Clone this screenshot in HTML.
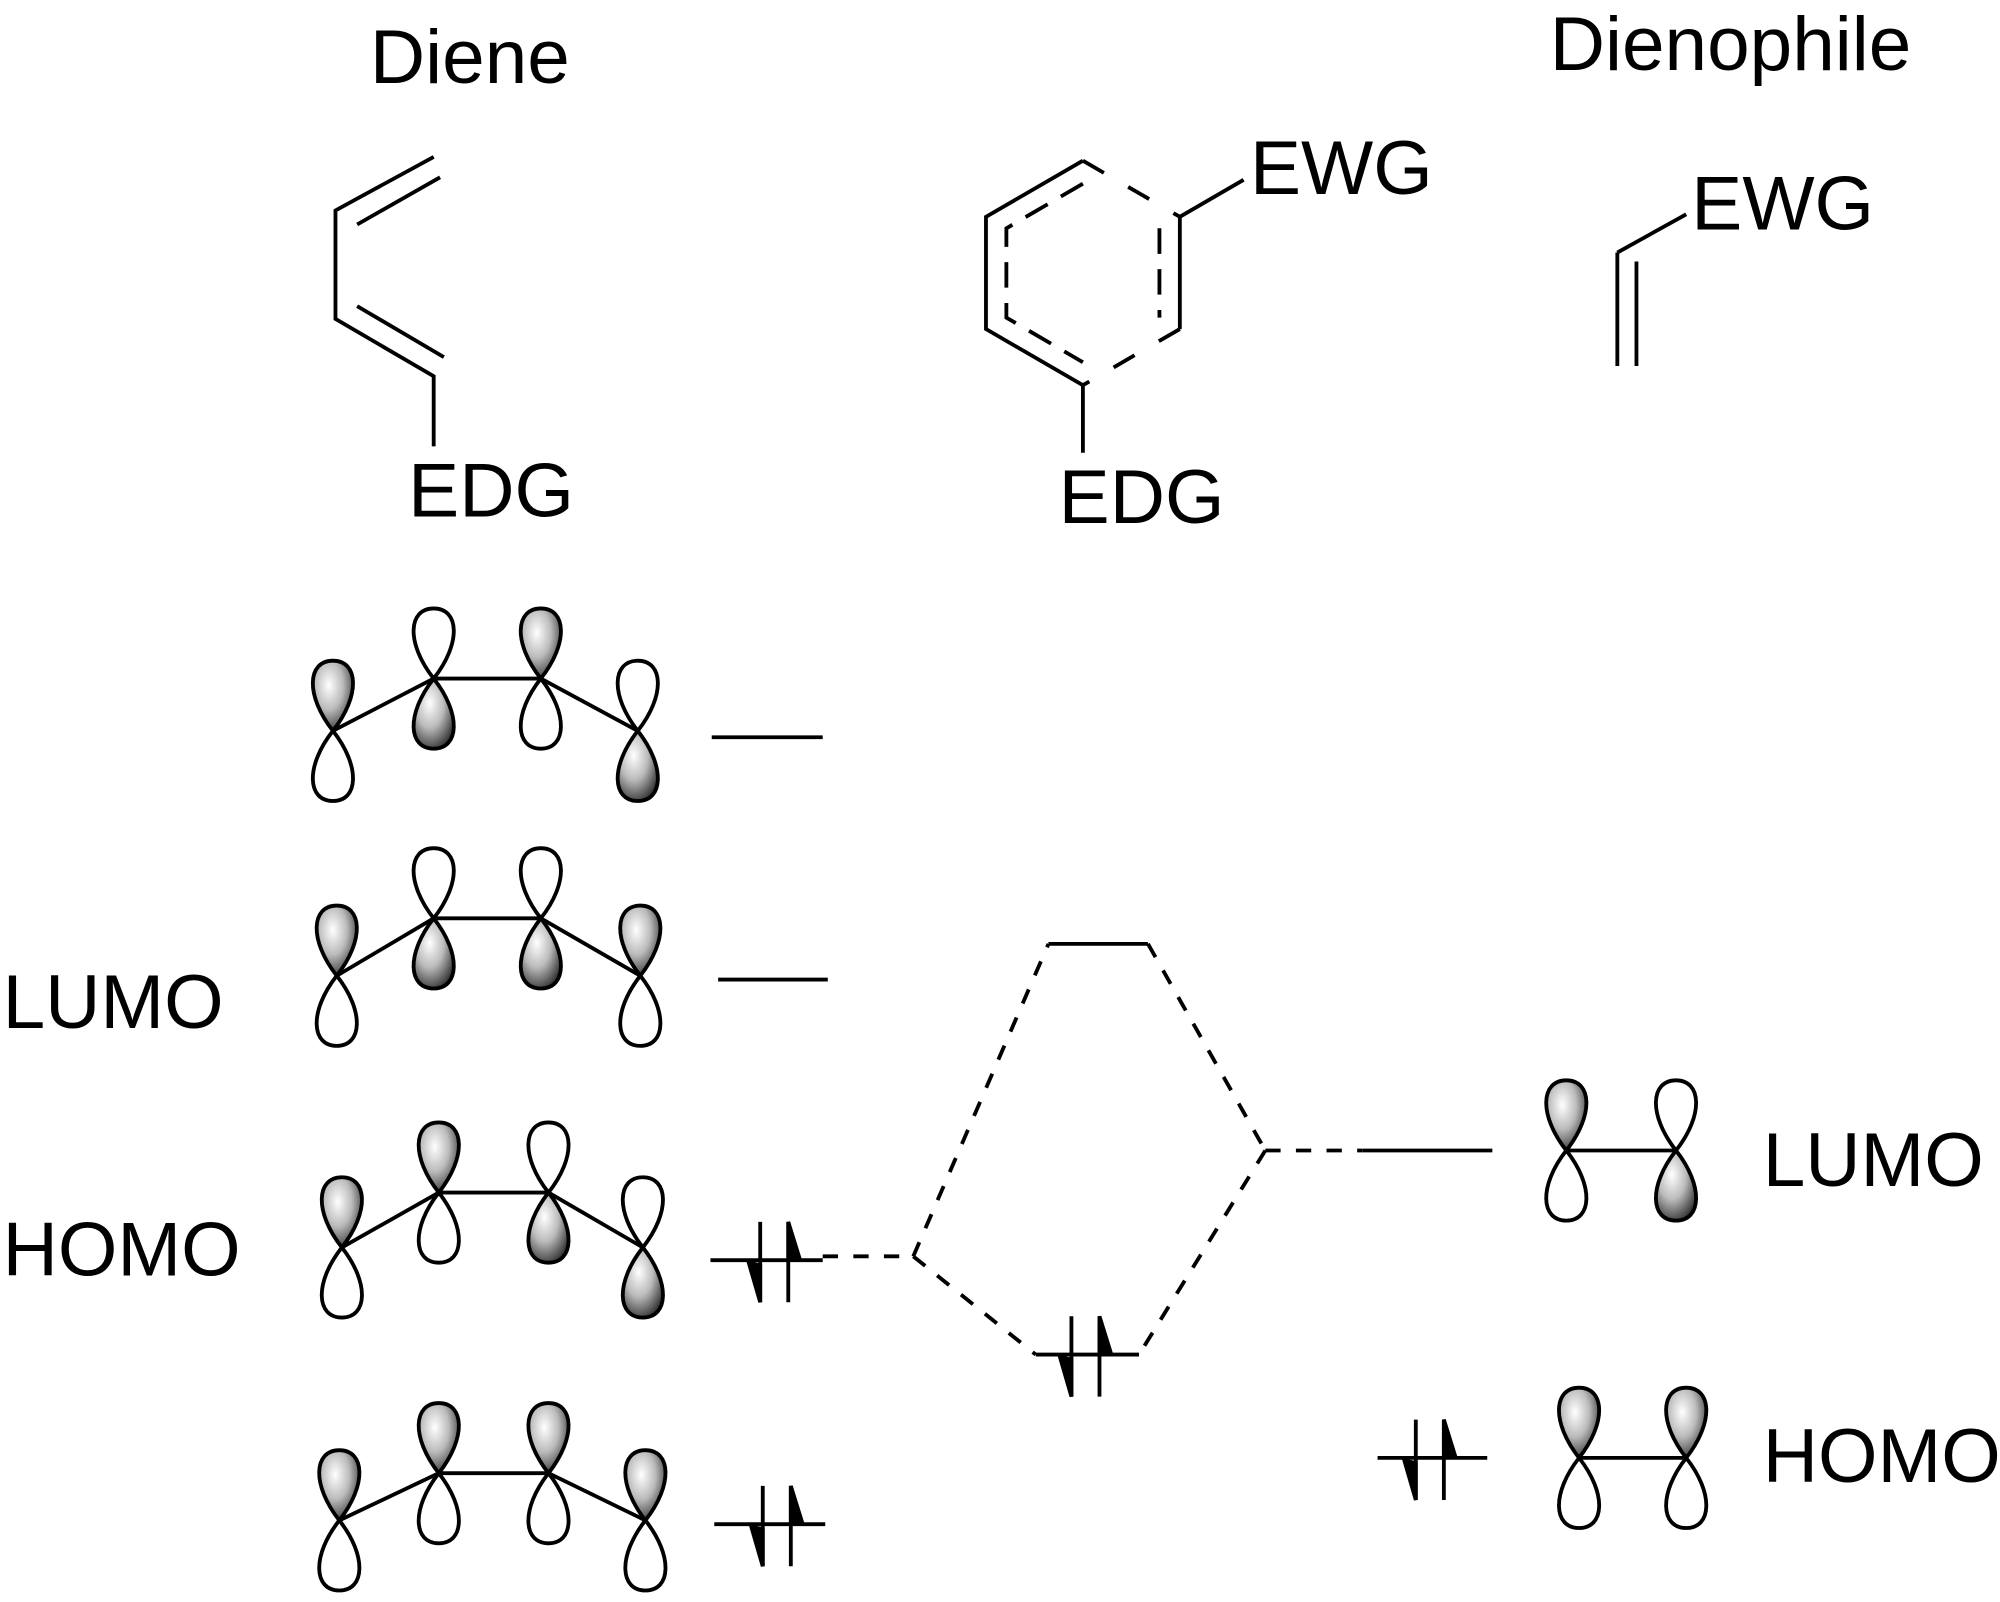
<!DOCTYPE html>
<html><head><meta charset="utf-8"><style>
html,body{margin:0;padding:0;background:#fff;}
svg{display:block;}
text{font-family:"Liberation Sans",sans-serif;fill:#000;}
</style></head><body>
<svg width="2000" height="1602" viewBox="0 0 1568 1256" xmlns="http://www.w3.org/2000/svg">
<defs>
<radialGradient id="g" cx="0.4" cy="0.35" r="0.7">
<stop offset="0" stop-color="#fff"/><stop offset="0.5" stop-color="#bbb"/><stop offset="1" stop-color="#333"/>
</radialGradient>
<path id="up" d="M0,0 C-22,-28 -20,-55 0,-55 C20,-55 22,-28 0,0 Z"/>
<path id="dn" d="M0,0 C-22,28 -20,55 0,55 C20,55 22,28 0,0 Z"/>
</defs>
<text x="290" y="65" font-size="60">Diene</text>
<text x="1215" y="55" font-size="60">Dienophile</text>
<text x="320" y="405" font-size="60">EDG</text>
<text x="830" y="410" font-size="60">EDG</text>
<text x="980" y="152" font-size="60">EWG</text>
<text x="1326" y="180" font-size="60">EWG</text>
<text x="2" y="806" font-size="60">LUMO</text>
<text x="2" y="1000" font-size="60">HOMO</text>
<text x="1382" y="930" font-size="60">LUMO</text>
<text x="1382" y="1162" font-size="60">HOMO</text>

<g stroke="#000" stroke-width="3" fill="none">
<polyline points="340,123 263,165 263,250 340,295 340,350"/>
<line x1="280" y1="176" x2="345" y2="139"/>
<line x1="280" y1="240" x2="348" y2="280"/>
<!-- benzene -->
<polyline points="849,126 773,170 773,258 849,302"/>
<line x1="925" y1="170" x2="925" y2="258"/>
<line x1="849" y1="126" x2="925" y2="170" stroke-dasharray="19,22"/>
<line x1="925" y1="258" x2="849" y2="302" stroke-dasharray="19,22" stroke-dashoffset="0"/>
<polyline points="849,144 789,179 789,249 849,284" stroke-dasharray="20,12"/>
<line x1="909" y1="179" x2="909" y2="249" stroke-dasharray="20,12"/>
<line x1="925" y1="170" x2="975" y2="141"/>
<line x1="849" y1="302" x2="849" y2="355"/>
<!-- dienophile -->
<line x1="1268" y1="198" x2="1268" y2="287"/>
<line x1="1283" y1="205" x2="1283" y2="287"/>
<line x1="1268" y1="198" x2="1322" y2="168"/>

<line x1="558" y1="578" x2="645" y2="578"/>
<line x1="563" y1="768" x2="649" y2="768"/>
<line x1="557" y1="988" x2="645" y2="988"/>
<line x1="560" y1="1195" x2="647" y2="1195"/>
<line x1="822" y1="740" x2="900" y2="740"/>
<line x1="812" y1="1062" x2="893" y2="1062"/>
<line x1="1068" y1="902" x2="1170" y2="902"/>
<line x1="1080" y1="1143" x2="1166" y2="1143"/>

<g stroke-dasharray="12,12">
<line x1="645" y1="985" x2="716" y2="985"/>
<line x1="716" y1="985" x2="822" y2="740"/>
<line x1="716" y1="985" x2="812" y2="1062"/>
<line x1="900" y1="740" x2="992" y2="902"/>
<line x1="992" y1="902" x2="893" y2="1062"/>
<line x1="992" y1="902" x2="1068" y2="902"/>
</g>
</g>

<g stroke="#000" stroke-width="3" fill="#000">
<g transform="translate(596,988)"><line x1="0" y1="-30" x2="0" y2="33"/><path d="M0,33 L-9,2 L0,4 Z"/><line x1="22" y1="-30" x2="22" y2="33"/><path d="M22,-30 L31,-1 L22,-3 Z"/></g>
<g transform="translate(598,1195)"><line x1="0" y1="-30" x2="0" y2="33"/><path d="M0,33 L-9,2 L0,4 Z"/><line x1="22" y1="-30" x2="22" y2="33"/><path d="M22,-30 L31,-1 L22,-3 Z"/></g>
<g transform="translate(840,1062)"><line x1="0" y1="-30" x2="0" y2="33"/><path d="M0,33 L-9,2 L0,4 Z"/><line x1="22" y1="-30" x2="22" y2="33"/><path d="M22,-30 L31,-1 L22,-3 Z"/></g>
<g transform="translate(1110,1143)"><line x1="0" y1="-30" x2="0" y2="33"/><path d="M0,33 L-9,2 L0,4 Z"/><line x1="22" y1="-30" x2="22" y2="33"/><path d="M22,-30 L31,-1 L22,-3 Z"/></g>
</g>

<g stroke="#000" stroke-width="3">
<polyline fill="none" points="261,573 340,532 424,532 500,573"/>
<use href="#up" x="261" y="573" fill="url(#g)"/><use href="#dn" x="261" y="573" fill="#fff"/>
<use href="#up" x="340" y="532" fill="#fff"/><use href="#dn" x="340" y="532" fill="url(#g)"/>
<use href="#up" x="424" y="532" fill="url(#g)"/><use href="#dn" x="424" y="532" fill="#fff"/>
<use href="#up" x="500" y="573" fill="#fff"/><use href="#dn" x="500" y="573" fill="url(#g)"/>
<polyline fill="none" points="264,765 340,720 424,720 502,765"/>
<use href="#up" x="264" y="765" fill="url(#g)"/><use href="#dn" x="264" y="765" fill="#fff"/>
<use href="#up" x="340" y="720" fill="#fff"/><use href="#dn" x="340" y="720" fill="url(#g)"/>
<use href="#up" x="424" y="720" fill="#fff"/><use href="#dn" x="424" y="720" fill="url(#g)"/>
<use href="#up" x="502" y="765" fill="url(#g)"/><use href="#dn" x="502" y="765" fill="#fff"/>
<polyline fill="none" points="268,978 344,935 430,935 504,978"/>
<use href="#up" x="268" y="978" fill="url(#g)"/><use href="#dn" x="268" y="978" fill="#fff"/>
<use href="#up" x="344" y="935" fill="url(#g)"/><use href="#dn" x="344" y="935" fill="#fff"/>
<use href="#up" x="430" y="935" fill="#fff"/><use href="#dn" x="430" y="935" fill="url(#g)"/>
<use href="#up" x="504" y="978" fill="#fff"/><use href="#dn" x="504" y="978" fill="url(#g)"/>
<polyline fill="none" points="266,1192 344,1155 430,1155 506,1192"/>
<use href="#up" x="266" y="1192" fill="url(#g)"/><use href="#dn" x="266" y="1192" fill="#fff"/>
<use href="#up" x="344" y="1155" fill="url(#g)"/><use href="#dn" x="344" y="1155" fill="#fff"/>
<use href="#up" x="430" y="1155" fill="url(#g)"/><use href="#dn" x="430" y="1155" fill="#fff"/>
<use href="#up" x="506" y="1192" fill="url(#g)"/><use href="#dn" x="506" y="1192" fill="#fff"/>
<line x1="1228" y1="902" x2="1314" y2="902"/>
<use href="#up" x="1228" y="902" fill="url(#g)"/><use href="#dn" x="1228" y="902" fill="#fff"/>
<use href="#up" x="1314" y="902" fill="#fff"/><use href="#dn" x="1314" y="902" fill="url(#g)"/>
<line x1="1238" y1="1143" x2="1322" y2="1143"/>
<use href="#up" x="1238" y="1143" fill="url(#g)"/><use href="#dn" x="1238" y="1143" fill="#fff"/>
<use href="#up" x="1322" y="1143" fill="url(#g)"/><use href="#dn" x="1322" y="1143" fill="#fff"/>
</g>
</svg>
</body></html>
